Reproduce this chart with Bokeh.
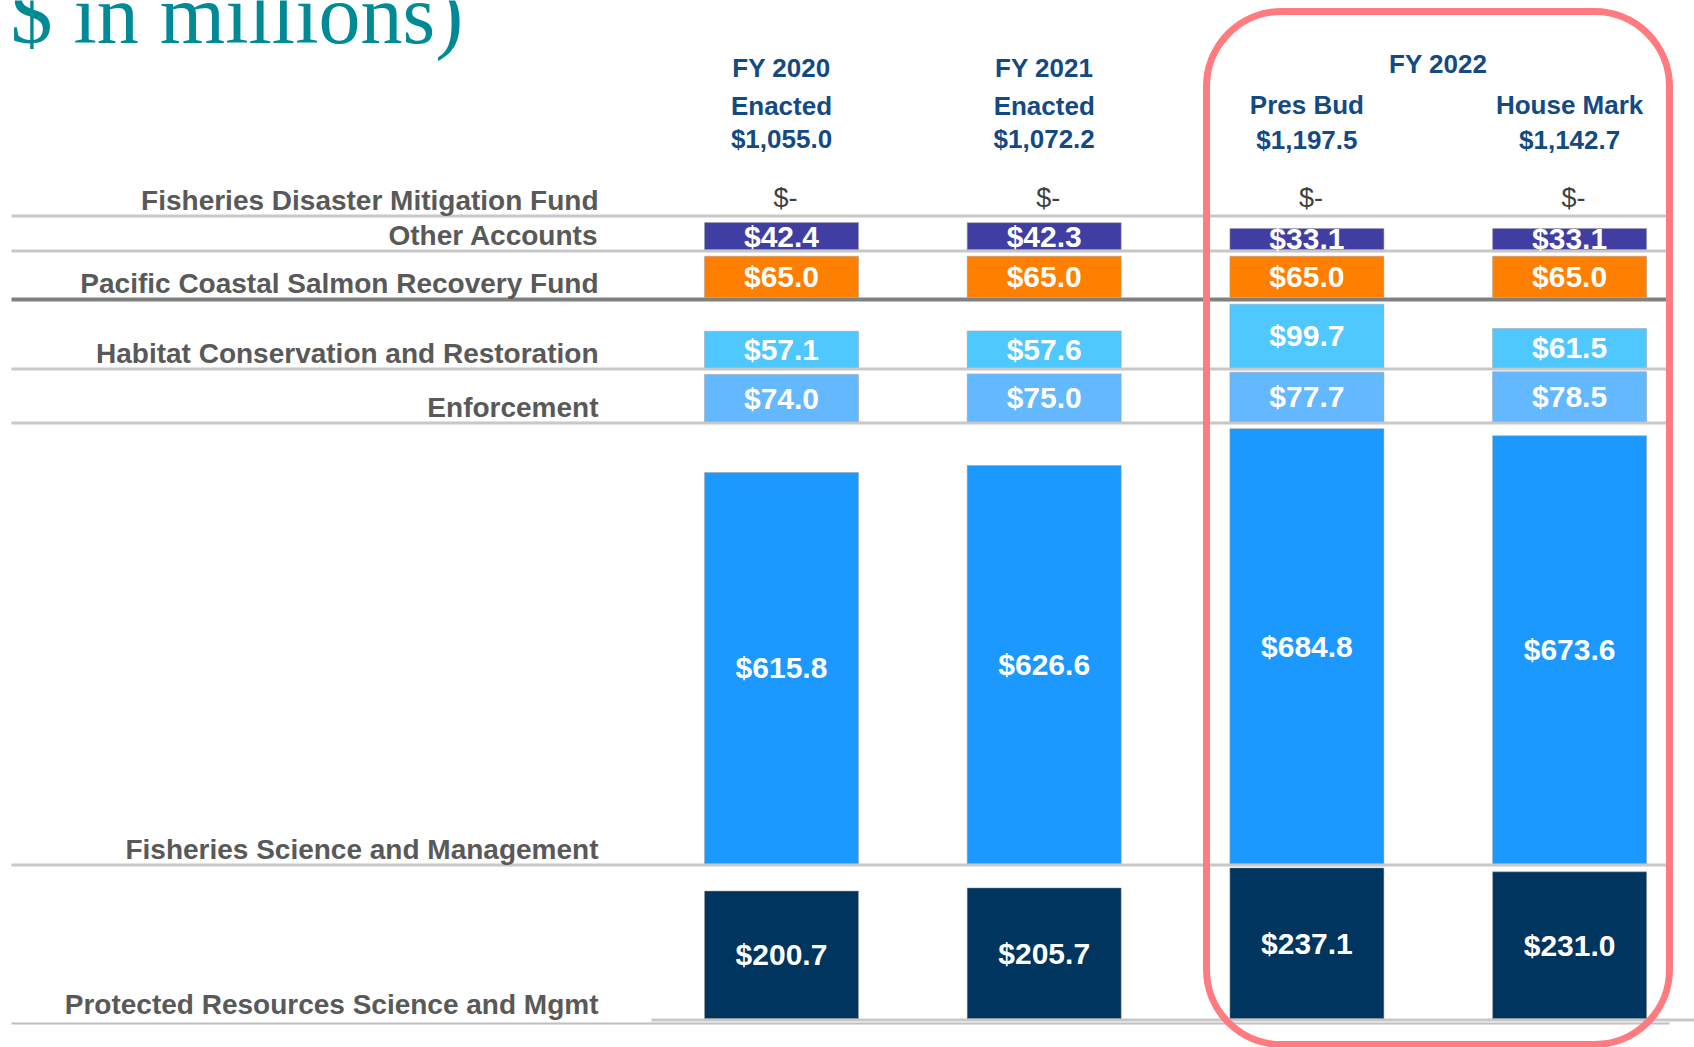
from bokeh.plotting import figure
from bokeh.models import Range1d, ColumnDataSource, BoxAnnotation
from bokeh.core.properties import value
from bokeh.embed import file_html
from bokeh.resources import INLINE

# ---------------- data ----------------
title_text = "$ in millions)"
column_year = ["FY 2020", "FY 2021", "FY 2022", "FY 2022"]
column_kind = ["Enacted", "Enacted", "Pres Bud", "House Mark"]
column_totals = [1055.0, 1072.2, 1197.5, 1142.7]

categories = [
    "Fisheries Disaster Mitigation Fund",
    "Other Accounts",
    "Pacific Coastal Salmon Recovery Fund",
    "Habitat Conservation and Restoration",
    "Enforcement",
    "Fisheries Science and Management",
    "Protected Resources Science and Mgmt",
]
fisheries_disaster = [0.0, 0.0, 0.0, 0.0]
other_accounts = [42.4, 42.3, 33.1, 33.1]
pacific_salmon = [65.0, 65.0, 65.0, 65.0]
habitat = [57.1, 57.6, 99.7, 61.5]
enforcement = [74.0, 75.0, 77.7, 78.5]
fisheries_science = [615.8, 626.6, 684.8, 673.6]
protected_resources = [200.7, 205.7, 237.1, 231.0]

series = [fisheries_disaster, other_accounts, pacific_salmon, habitat,
          enforcement, fisheries_science, protected_resources]

# ---------------- style / layout ----------------
row_colors = [None, "#403EA2", "#FF8000", "#4FC8FF", "#64B8FF", "#1B99FF", "#00355F"]
row_base_px = [214, 249, 297, 367, 421, 863, 1018]   # screen y of each row's baseline
row_line_dark = [False, False, True, False, False, False, False]

FIG_W, FIG_H = 1694, 1047
PX_PER_M = 0.635          # pixels per $M
COL_PX = 262.7            # pixels between columns
X0 = 781                  # px of first column centre


def X(sx):
    return (sx - X0) / COL_PX


def Y(sy):
    return (FIG_H - sy) / PX_PER_M


p = figure(width=FIG_W, height=FIG_H, output_backend="svg", toolbar_location=None,
           x_range=Range1d(-X0 / COL_PX, (FIG_W - X0) / COL_PX),
           y_range=Range1d(0, FIG_H / PX_PER_M),
           x_axis_type=None, y_axis_type=None, min_border=0,
           background_fill_color="white", border_fill_color="white")
p.outline_line_color = None
p.grid.visible = False

LABEL_FONT = value("Liberation Sans")

# ---- horizontal rule lines ----
lx0, lx1, ly, lc, lw = [], [], [], [], []
for r, base in enumerate(row_base_px):
    dark = row_line_dark[r]
    w = 4 if dark else 3
    if r == len(row_base_px) - 1:
        # bar base line + label underline
        lx0 += [X(651), X(11)]
        lx1 += [X(1694), X(1669)]
        ly += [Y(base + 1.5), Y(base + 5)]
        lc += ["#C8C8C8", "#C0C0C0"]
        lw += [3, 2]
    else:
        lx0.append(X(11))
        lx1.append(X(1669))
        ly.append(Y(base + w / 2))
        lc.append("#808080" if dark else "#C8C8C8")
        lw.append(w)
p.segment(x0=lx0, x1=lx1, y0=ly, y1=ly, line_color=lc, line_width=lw)

# ---- bars ----
bx, bb, bt, bc, bl, by = [], [], [], [], [], []
zx, zy = [], []
for r, vals in enumerate(series):
    base = Y(row_base_px[r])
    for c, v in enumerate(vals):
        if v > 0:
            bx.append(c)
            bb.append(base)
            bt.append(base + v)
            bc.append(row_colors[r])
            bl.append(f"${v:,.1f}")
            by.append(base + v / 2)
        else:
            zx.append(c + 4 / COL_PX)
            zy.append(Y(row_base_px[r] - 17))

src = ColumnDataSource(dict(x=bx, bottom=bb, top=bt, color=bc, label=bl, ly=by))
p.vbar(x="x", bottom="bottom", top="top", width=154 / COL_PX, fill_color="color",
       line_color="#A0A0A0", line_width=1, line_alpha=0.5, source=src)
p.text(x="x", y="ly", text="label", source=src, text_align="center", text_baseline="middle",
       text_color="white", text_font=LABEL_FONT, text_font_style="bold",
       text_font_size="30px")

# zero values
p.text(x=zx, y=zy, text=["$-"] * len(zx), text_align="center", text_baseline="middle",
       text_color="#404040", text_font=LABEL_FONT, text_font_size="27px")

# ---- category labels ----
p.text(x=[X(598)] * len(categories), y=[Y(b - 14) for b in row_base_px], text=categories,
       text_align="right", text_baseline="middle", text_color="#595959",
       text_font=LABEL_FONT, text_font_style="bold", text_font_size="28px")

# ---- column headers ----
HDR = "#134A84"
hx, hy, ht = [], [], []
for c in range(4):
    if column_year[c] != "FY 2022":
        hx += [c, c, c]
        hy += [Y(67), Y(105), Y(138)]
        ht += [column_year[c], column_kind[c], f"${column_totals[c]:,.1f}"]
    else:
        hx += [c, c]
        hy += [Y(104), Y(139)]
        ht += [column_kind[c], f"${column_totals[c]:,.1f}"]
# group header
hx.append(2.5)
hy.append(Y(63))
ht.append("FY 2022")
p.text(x=hx, y=hy, text=ht, text_align="center", text_baseline="middle",
       text_color=HDR, text_font=LABEL_FONT, text_font_style="bold", text_font_size="26px")

# ---- title (cut off at top, as in the source slide) ----
p.text(x=[X(10)], y=[Y(14)], text=[title_text], text_align="left", text_baseline="middle",
       text_color="#008A96", text_font=value("Liberation Serif"), text_font_size="84px")

# ---- highlight box around FY 2022 ----
box = BoxAnnotation(left=X(1206), right=X(1669), top=Y(11), bottom=Y(1044),
                    fill_color=None, fill_alpha=0, line_color="#FF7B80", line_alpha=1,
                    line_width=7, border_radius=75)
p.add_layout(box)

open("out.html", "w").write(file_html(p, INLINE))
